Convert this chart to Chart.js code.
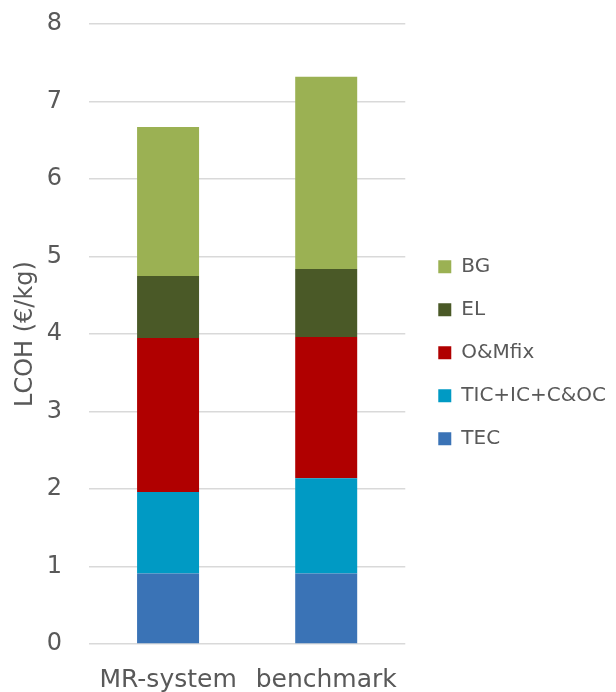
<!DOCTYPE html>
<html>
<head>
<meta charset="utf-8">
<script src="https://cdn.jsdelivr.net/npm/chart.js@4/dist/chart.umd.min.js"></script>
<style>
  html, body { margin: 0; padding: 0; background: #ffffff; }
  #wrap { width: 616px; height: 692px; position: relative; }
</style>
</head>
<body>
<div id="wrap"><canvas id="chart" width="616" height="692"></canvas></div>
<script>
// Levelised cost of hydrogen, split by cost component (€/kg)
const categories = ['MR-system', 'benchmark'];
const tec        = [0.91, 0.91];
const ticIcCoc   = [1.05, 1.23];
const omFix      = [1.99, 1.82];
const el         = [0.80, 0.88];
const bg         = [1.92, 2.48];
const yTicks     = [0, 1, 2, 3, 4, 5, 6, 7, 8];

const seriesNames  = ['TEC', 'TIC+IC+C&OC', 'O&Mfix', 'EL', 'BG'];
const seriesValues = [tec, ticIcCoc, omFix, el, bg];
const seriesColors = ['#3A73B6', '#009AC4', '#B00000', '#4A5927', '#9BB153'];

const textGrey = '#595959';
const fontFamily = '"DejaVu Sans", "Liberation Sans", sans-serif';

// fixed box sizes for the axes so the plot area sits where intended
const fixBox = (w, h) => scale => {
  if (w !== null) scale.width = w;
  if (h !== null) scale.height = h;
  scale.paddingLeft = 0;
  scale.paddingRight = 0;
  scale.paddingBottom = 0;
  scale.paddingTop = 0;
};

new Chart(document.getElementById('chart'), {
  type: 'bar',
  data: {
    labels: categories,
    datasets: seriesNames.map((name, i) => ({
      label: name,
      data: seriesValues[i],
      backgroundColor: seriesColors[i],
      borderWidth: 0,
      stack: 'lcoh',
      categoryPercentage: 1.0,
      barPercentage: 0.392
    }))
  },
  options: {
    responsive: false,
    animation: false,
    devicePixelRatio: 1,
    layout: { padding: { top: 13.4, left: 0, right: 0, bottom: 0 } },
    plugins: {
      tooltip: { enabled: false },
      legend: {
        position: 'right',
        align: 'center',
        reverse: true,
        maxWidth: 240,
        labels: {
          boxWidth: 13,
          boxHeight: 13,
          padding: 23,
          color: textGrey,
          font: { size: 20, family: fontFamily }
        }
      }
    },
    scales: {
      x: {
        stacked: true,
        grid: { display: false },
        border: { display: false },
        afterFit: fixBox(null, 48),
        ticks: {
          color: textGrey,
          padding: 16,
          maxRotation: 0,
          autoSkip: false,
          font: { size: 25, family: fontFamily, lineHeight: 1.0 }
        }
      },
      y: {
        stacked: true,
        min: 0,
        max: 8,
        afterBuildTicks: scale => { scale.ticks = yTicks.map(v => ({ value: v })); },
        afterFit: scale => { fixBox(89, null)(scale); scale.paddingTop = 24; },
        grid: { color: '#D9D9D9', lineWidth: 1.5, drawTicks: false },
        border: { display: false },
        ticks: {
          color: textGrey,
          padding: 27,
          font: { size: 24, family: fontFamily }
        },
        title: {
          display: true,
          text: 'LCOH (€/kg)',
          color: textGrey,
          padding: { top: 11, bottom: 0 },
          font: { size: 24, family: fontFamily }
        }
      },
      gap: {
        position: 'right',
        display: true,
        grid: { display: false, drawTicks: false },
        border: { display: false },
        ticks: { display: false },
        afterFit: fixBox(10, null)
      }
    }
  }
});
</script>
</body>
</html>
